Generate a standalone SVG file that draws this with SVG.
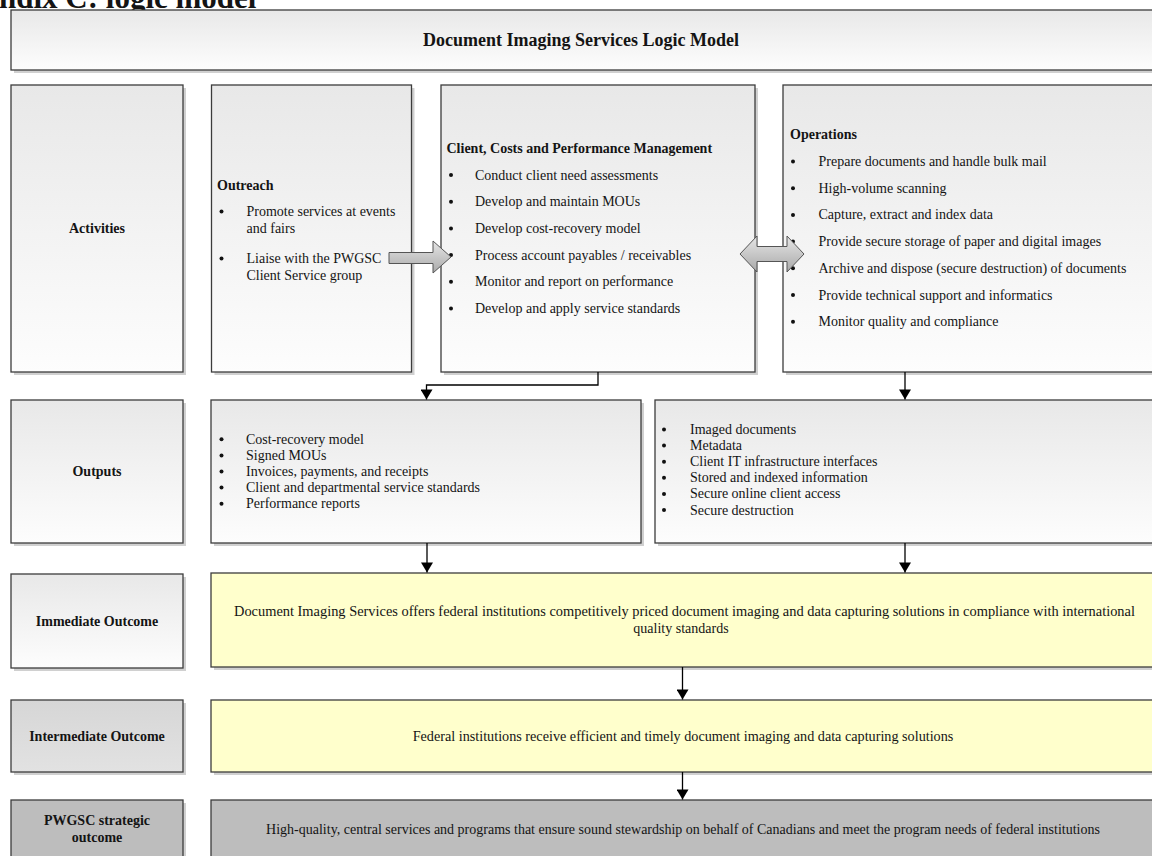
<svg xmlns="http://www.w3.org/2000/svg" width="1152" height="856" viewBox="0 0 1152 856">
<defs>
<linearGradient id="gLight" x1="0" y1="0" x2="0" y2="1">
<stop offset="0" stop-color="#e8e8e8"/>
<stop offset="1" stop-color="#fdfdfd"/>
</linearGradient>
<linearGradient id="gMid" x1="0" y1="0" x2="0" y2="1">
<stop offset="0" stop-color="#d6d6d6"/>
<stop offset="1" stop-color="#e2e2e2"/>
</linearGradient>
<linearGradient id="gArrow" x1="0" y1="0" x2="0" y2="1">
<stop offset="0" stop-color="#e6e6e6"/>
<stop offset="1" stop-color="#a9a9a9"/>
</linearGradient>
<marker id="ah" markerUnits="userSpaceOnUse" markerWidth="12" markerHeight="12" refX="10" refY="6" orient="auto" viewBox="0 0 10 12">
<path d="M0,0 L10,6 L0,12 z" fill="#000"/>
</marker>
</defs>
<style>
text { font-family: "Liberation Serif", "Times New Roman", serif; font-size: 14px; fill: #141414; }
.b { font-weight: bold; }
.c { text-anchor: middle; }
.box { stroke: #3c3c3c; stroke-width: 1.3; }
.sh { fill: #bcbcbc; opacity: 0.7; }
.lt { fill: url(#gLight); }
.md { fill: url(#gMid); }
.yl { fill: #ffffcc; }
.dk { fill: #bdbdbd; }
.conn { stroke: #000; stroke-width: 1.3; fill: none; }
.blk { fill: url(#gArrow); stroke: #555; stroke-width: 1; }
.dot { fill: #111; }
</style>

<text class="b" x="-1" y="8" style="font-size:31px">ndix C: logic model</text>

<g id="title">
<rect class="sh" x="14" y="13" width="1150" height="60"/>
<rect class="box lt" x="11" y="10" width="1150" height="60"/>
<text class="b c" x="581" y="46" style="font-size:18px">Document Imaging Services Logic Model</text>
</g>

<g id="activities-label">
<rect class="sh" x="14" y="88" width="172" height="287"/>
<rect class="box lt" x="11" y="85" width="172" height="287"/>
<text class="b c" x="97" y="233">Activities</text>
</g>

<g id="outreach">
<rect class="sh" x="214.5" y="88" width="200" height="287"/>
<rect class="box lt" x="211.5" y="85" width="200" height="287"/>
<text class="b" x="217" y="190">Outreach</text>
<circle class="dot" cx="221.5" cy="211.5" r="2"/>
<text x="246.5" y="216">Promote services at events</text>
<text x="246.5" y="233">and fairs</text>
<circle class="dot" cx="221.5" cy="258.5" r="2"/>
<text x="246.5" y="263">Liaise with the PWGSC</text>
<text x="246.5" y="280">Client Service group</text>
</g>

<g id="ccpm">
<rect class="sh" x="444" y="88" width="314" height="287"/>
<rect class="box lt" x="441" y="85" width="314" height="287"/>
<text class="b" x="446.5" y="153">Client, Costs and Performance Management</text>
<circle class="dot" cx="451" cy="175" r="2"/>
<text x="475" y="179.5">Conduct client need assessments</text>
<circle class="dot" cx="451" cy="201.7" r="2"/>
<text x="475" y="206.2">Develop and maintain MOUs</text>
<circle class="dot" cx="451" cy="228.4" r="2"/>
<text x="475" y="232.9">Develop cost-recovery model</text>
<circle class="dot" cx="451" cy="255.1" r="2"/>
<text x="475" y="259.6">Process account payables / receivables</text>
<circle class="dot" cx="451" cy="281.8" r="2"/>
<text x="475" y="286.3">Monitor and report on performance</text>
<circle class="dot" cx="451" cy="308.5" r="2"/>
<text x="475" y="313">Develop and apply service standards</text>
</g>

<g id="operations">
<rect class="sh" x="786" y="88" width="380" height="287"/>
<rect class="box lt" x="783" y="85" width="380" height="287"/>
<text class="b" x="790" y="139">Operations</text>
<circle class="dot" cx="793" cy="161.5" r="2"/>
<text x="818.5" y="166">Prepare documents and handle bulk mail</text>
<circle class="dot" cx="793" cy="188.2" r="2"/>
<text x="818.5" y="192.7">High-volume scanning</text>
<circle class="dot" cx="793" cy="214.9" r="2"/>
<text x="818.5" y="219.4">Capture, extract and index data</text>
<circle class="dot" cx="793" cy="241.6" r="2"/>
<text x="818.5" y="246.1">Provide secure storage of paper and digital images</text>
<circle class="dot" cx="793" cy="268.3" r="2"/>
<text x="818.5" y="272.8">Archive and dispose (secure destruction) of documents</text>
<circle class="dot" cx="793" cy="295" r="2"/>
<text x="818.5" y="299.5">Provide technical support and informatics</text>
<circle class="dot" cx="793" cy="321.7" r="2"/>
<text x="818.5" y="326.2">Monitor quality and compliance</text>
</g>

<g id="outputs-label">
<rect class="sh" x="14" y="403" width="172" height="143"/>
<rect class="box lt" x="11" y="400" width="172" height="143"/>
<text class="b c" x="97" y="476">Outputs</text>
</g>

<g id="outputs-ccpm">
<rect class="sh" x="214" y="403" width="430" height="143"/>
<rect class="box lt" x="211" y="400" width="430" height="143"/>
<circle class="dot" cx="221.5" cy="439.3" r="2"/>
<text x="246" y="443.8">Cost-recovery model</text>
<circle class="dot" cx="221.5" cy="455.4" r="2"/>
<text x="246" y="459.9">Signed MOUs</text>
<circle class="dot" cx="221.5" cy="471.5" r="2"/>
<text x="246" y="476">Invoices, payments, and receipts</text>
<circle class="dot" cx="221.5" cy="487.6" r="2"/>
<text x="246" y="492.1">Client and departmental service standards</text>
<circle class="dot" cx="221.5" cy="503.7" r="2"/>
<text x="246" y="508.2">Performance reports</text>
</g>

<g id="outputs-operations">
<rect class="sh" x="658" y="403" width="505" height="143"/>
<rect class="box lt" x="655" y="400" width="505" height="143"/>
<circle class="dot" cx="664" cy="429.5" r="2"/>
<text x="690" y="434">Imaged documents</text>
<circle class="dot" cx="664" cy="445.6" r="2"/>
<text x="690" y="450.1">Metadata</text>
<circle class="dot" cx="664" cy="461.7" r="2"/>
<text x="690" y="466.2">Client IT infrastructure interfaces</text>
<circle class="dot" cx="664" cy="477.8" r="2"/>
<text x="690" y="482.3">Stored and indexed information</text>
<circle class="dot" cx="664" cy="493.9" r="2"/>
<text x="690" y="498.4">Secure online client access</text>
<circle class="dot" cx="664" cy="510" r="2"/>
<text x="690" y="514.5">Secure destruction</text>
</g>

<g id="immediate-label">
<rect class="sh" x="14" y="577" width="172" height="94"/>
<rect class="box lt" x="11" y="574" width="172" height="94"/>
<text class="b c" x="97" y="626">Immediate Outcome</text>
</g>

<g id="immediate-outcome">
<rect class="sh" x="214" y="576" width="950" height="94"/>
<rect class="box yl" x="211" y="573" width="950" height="94"/>
<text class="c" x="684.5" y="616" style="font-size:14.4px">Document Imaging Services offers federal institutions competitively priced document imaging and data capturing solutions in compliance with international</text>
<text class="c" x="681" y="633">quality standards</text>
</g>

<g id="intermediate-label">
<rect class="sh" x="14" y="703" width="172" height="72"/>
<rect class="box md" x="11" y="700" width="172" height="72"/>
<text class="b c" x="97" y="741">Intermediate Outcome</text>
</g>

<g id="intermediate-outcome">
<rect class="sh" x="214" y="703" width="950" height="72"/>
<rect class="box yl" x="211" y="700" width="950" height="72"/>
<text class="c" x="683" y="741" style="font-size:14.2px">Federal institutions receive efficient and timely document imaging and data capturing solutions</text>
</g>

<g id="strategic-label">
<rect class="sh" x="14" y="803" width="172" height="72"/>
<rect class="box dk" x="11" y="800" width="172" height="72"/>
<text class="b c" x="97" y="825">PWGSC strategic</text>
<text class="b c" x="97" y="842">outcome</text>
</g>

<g id="strategic-outcome">
<rect class="sh" x="214" y="803" width="950" height="72"/>
<rect class="box dk" x="211" y="800" width="950" height="72"/>
<text class="c" x="683" y="834">High-quality, central services and programs that ensure sound stewardship on behalf of Canadians and meet the program needs of federal institutions</text>
</g>

<g id="connectors">
<path class="blk" d="M389,252.5 H433 V241 L451,257 L433,273 V263.5 H389 Z"/>
<path class="blk" d="M740,254 L757,236 V246.5 H787 V236 L804,254 L787,272 V261.5 H757 V272 Z"/>
<path class="conn" d="M598,372 V385 H426.5 V399.5" marker-end="url(#ah)"/>
<path class="conn" d="M905,372 V399.5" marker-end="url(#ah)"/>
<path class="conn" d="M427,543 V572.5" marker-end="url(#ah)"/>
<path class="conn" d="M905,543 V572.5" marker-end="url(#ah)"/>
<path class="conn" d="M682.5,667 V699.5" marker-end="url(#ah)"/>
<path class="conn" d="M682.5,772 V799.5" marker-end="url(#ah)"/>
</g>
</svg>
